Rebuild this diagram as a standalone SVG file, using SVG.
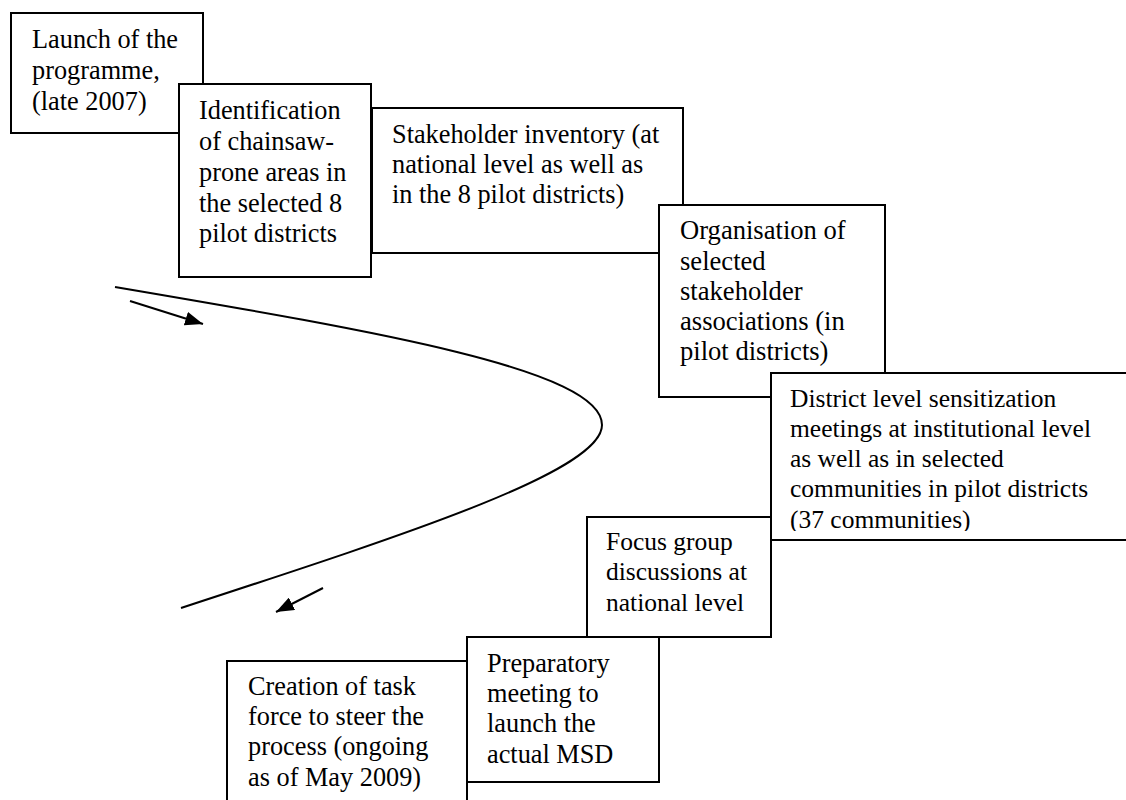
<svg xmlns="http://www.w3.org/2000/svg" width="1126" height="800" viewBox="0 0 1126 800">
<style>
.box{fill:#fff;stroke:#000;stroke-width:2}
text{font-family:'Liberation Serif','Times New Roman',Times,serif;font-size:26.3px;fill:#000}
text.s{font-size:25.5px}
text.l{font-size:26.6px}
.c{fill:none;stroke:#000;stroke-width:2}
</style>
<defs>
<marker id="ah" viewBox="0 0 10 10" refX="10" refY="5" markerWidth="18" markerHeight="14" markerUnits="userSpaceOnUse" orient="auto" preserveAspectRatio="none">
<path d="M0,0 L10,5 L0,10 Z" fill="#000"/>
</marker>
<clipPath id="clip5"><rect x="771" y="373" width="360" height="158"/></clipPath>
</defs>
<rect width="1126" height="800" fill="#fff"/>
<g id="n1">
<rect class="box" x="11" y="13" width="192" height="120"/>
<text><tspan x="32" y="48">Launch of the</tspan><tspan x="32" y="79">programme,</tspan><tspan x="32" y="110">(late 2007)</tspan></text>
</g>
<g id="n2">
<rect class="box" x="179" y="84" width="192" height="193"/>
<text><tspan x="199" y="119">Identification</tspan><tspan x="199" y="150">of chainsaw-</tspan><tspan x="199" y="181">prone areas in</tspan><tspan x="199" y="212">the selected 8</tspan><tspan x="199" y="242">pilot districts</tspan></text>
</g>
<g id="n3">
<rect class="box" x="372" y="108" width="311" height="145"/>
<text><tspan x="392" y="143">Stakeholder inventory (at</tspan><tspan x="392" y="173">national level as well as</tspan><tspan x="392" y="203">in the 8 pilot districts)</tspan></text>
</g>
<g id="n4">
<rect class="box" x="659" y="205" width="226" height="192"/>
<text class="l"><tspan x="680" y="239">Organisation of</tspan><tspan x="680" y="270">selected</tspan><tspan x="680" y="300">stakeholder</tspan><tspan x="680" y="330">associations (in</tspan><tspan x="680" y="360">pilot districts)</tspan></text>
</g>
<g id="n5">
<rect class="box" x="771" y="373" width="370" height="167"/>
<text class="s" clip-path="url(#clip5)"><tspan x="790" y="407">District level sensitization</tspan><tspan x="790" y="437">meetings at institutional level</tspan><tspan x="790" y="467">as well as in selected</tspan><tspan x="790" y="497">communities in pilot districts</tspan><tspan x="790" y="528">(37 communities)</tspan></text>
</g>
<g id="n6">
<rect class="box" x="587" y="517" width="184" height="120"/>
<text class="s"><tspan x="606" y="550">Focus group</tspan><tspan x="606" y="580">discussions at</tspan><tspan x="606" y="611">national level</tspan></text>
</g>
<g id="n8">
<rect class="box" x="227" y="661" width="240" height="160"/>
<text><tspan x="248" y="695">Creation of task</tspan><tspan x="248" y="725">force to steer the</tspan><tspan x="248" y="755">process (ongoing</tspan><tspan x="248" y="786">as of May 2009)</tspan></text>
</g>
<g id="n7">
<rect class="box" x="467" y="637" width="192" height="145"/>
<text><tspan x="487" y="672">Preparatory</tspan><tspan x="487" y="702">meeting to</tspan><tspan x="487" y="732">launch the</tspan><tspan x="487" y="763">actual MSD</tspan></text>
</g>
<g id="connectors">
<path class="c" d="M115,287 C380,332 602,370 602,425 C602,470 420,530 181,608"/>
<line class="c" x1="130" y1="301" x2="203" y2="324" marker-end="url(#ah)"/>
<line class="c" x1="323" y1="588" x2="276" y2="612" marker-end="url(#ah)"/>
</g>
</svg>
